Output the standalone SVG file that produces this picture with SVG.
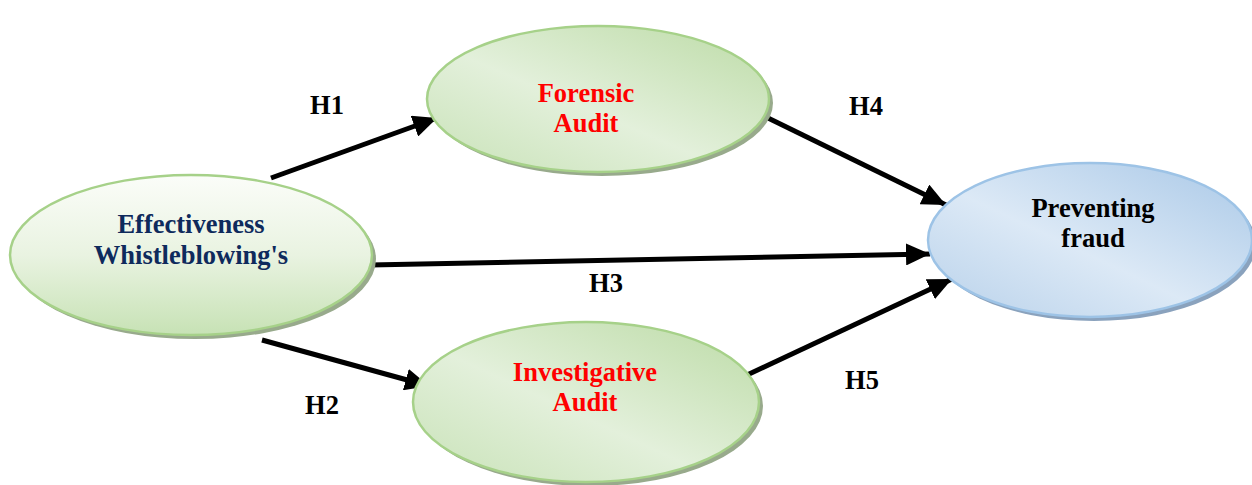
<svg xmlns="http://www.w3.org/2000/svg" width="1252" height="485" viewBox="0 0 1252 485">
<defs>
<linearGradient id="gEff" x1="0" y1="0" x2="0" y2="1">
<stop offset="0" stop-color="#fbfdf9"/><stop offset="0.5" stop-color="#e9f3e1"/><stop offset="1" stop-color="#c7e2b5"/>
</linearGradient>
<linearGradient id="gGreen" x1="0" y1="1" x2="1" y2="0">
<stop offset="0" stop-color="#c8e2b7"/><stop offset="0.45" stop-color="#e3f0db"/><stop offset="1" stop-color="#bcdba6"/>
</linearGradient>
<linearGradient id="gBlue" x1="0" y1="1" x2="1" y2="0">
<stop offset="0" stop-color="#b8d1ea"/><stop offset="0.45" stop-color="#dce9f6"/><stop offset="1" stop-color="#a9c8e7"/>
</linearGradient>
<marker id="arr" markerUnits="userSpaceOnUse" markerWidth="26" markerHeight="22" refX="24" refY="11" orient="auto">
<path d="M0,0 L24,11 L0,22 Z" fill="#000"/>
</marker>
</defs>
<style>
.shG{fill:#98aa8c}
.shB{fill:#8aa2bd}
.ellG{stroke:#a6d189;stroke-width:2.5}
.ellB{stroke:#9dc3e6;stroke-width:2.5}
text{font-family:'Liberation Serif','Times New Roman','DejaVu Serif',serif;font-weight:bold;font-size:26.5px;text-anchor:middle}
.navy{fill:#0e2a5c}
.red{fill:#ff0000}
.blk{fill:#000}
.c{stroke:#000;stroke-width:5;fill:none;marker-end:url(#arr)}
</style>
<g id="connectors">
<line class="c" x1="271" y1="178" x2="437" y2="118"/>
<line class="c" x1="262" y1="340" x2="429" y2="386"/>
<line class="c" x1="370" y1="265" x2="930" y2="254"/>
<line class="c" x1="768" y1="118" x2="946" y2="205"/>
<line class="c" x1="747" y1="375" x2="952" y2="279"/>
</g>
<g id="node-effectiveness">
<ellipse class="shG" cx="195" cy="259" rx="181" ry="80"/>
<ellipse class="ellG" cx="191" cy="255" rx="181" ry="80" fill="url(#gEff)"/>
<text class="navy" x="191" y="233">Effectiveness</text>
<text class="navy" x="191" y="264">Whistleblowing's</text>
</g>
<g id="node-forensic">
<ellipse class="shG" cx="602" cy="103" rx="171" ry="73"/>
<ellipse class="ellG" cx="598" cy="99" rx="171" ry="73" fill="url(#gGreen)"/>
<text class="red" x="586" y="102">Forensic</text>
<text class="red" x="586" y="132">Audit</text>
</g>
<g id="node-investigative">
<ellipse class="shG" cx="590" cy="406" rx="173" ry="80"/>
<ellipse class="ellG" cx="586" cy="402" rx="173" ry="80" fill="url(#gGreen)"/>
<text class="red" x="585" y="381">Investigative</text>
<text class="red" x="585" y="411">Audit</text>
</g>
<g id="node-preventing">
<ellipse class="shB" cx="1094" cy="244" rx="162" ry="77"/>
<ellipse class="ellB" cx="1090" cy="240" rx="162" ry="77" fill="url(#gBlue)"/>
<text class="blk" x="1093" y="217">Preventing</text>
<text class="blk" x="1093" y="247">fraud</text>
</g>
<g id="labels">
<text class="blk" x="327" y="114">H1</text>
<text class="blk" x="322" y="414">H2</text>
<text class="blk" x="606" y="292">H3</text>
<text class="blk" x="866" y="115">H4</text>
<text class="blk" x="862" y="389">H5</text>
</g>
</svg>
